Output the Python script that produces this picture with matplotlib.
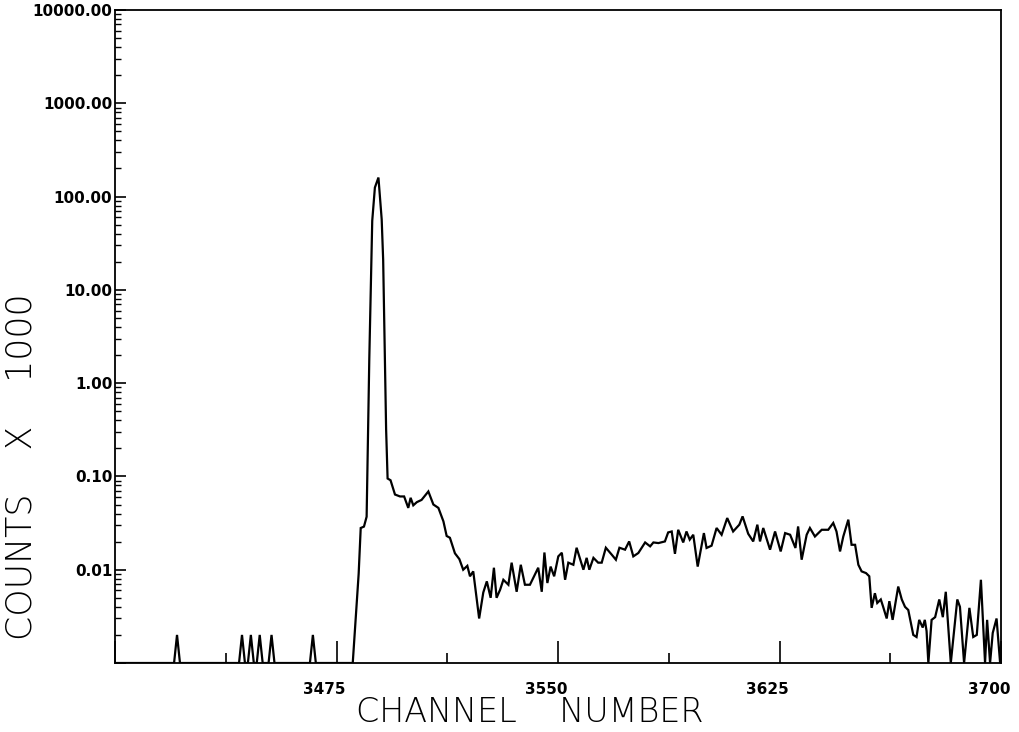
import numpy as np
import matplotlib
matplotlib.use("Agg")
import matplotlib.pyplot as plt
from matplotlib.transforms import ScaledTranslation
from matplotlib.ticker import FixedLocator, NullFormatter, LogLocator

# ---- data (channel number, counts x 1000) ----
channels = [
    3400, 3420, 3421, 3422, 3442, 3443, 3444, 3445, 3446, 3447, 3448, 3449, 3450,
    3452, 3453, 3454, 3466, 3467, 3468, 3480.5,
    3481.5, 3482.5, 3483.2, 3484.3, 3485.2, 3486.1, 3487.1, 3488.0, 3489.2, 3490.3,
    3490.8, 3491.4, 3491.8, 3492.3, 3493.3, 3494.8, 3496.5, 3497.9, 3499.3, 3500.1,
    3501.0, 3502.2, 3503.8, 3506.1, 3507.8, 3509.5, 3511.2, 3512.3, 3513.4, 3515.1,
    3516.6, 3517.9, 3519.3, 3520.2, 3521.3, 3523.3, 3524.7, 3525.9, 3527.2, 3528.3,
    3529.2, 3530.4, 3531.5, 3533.2, 3534.3, 3536.0, 3537.4, 3538.8, 3540.5, 3541.9,
    3543.3, 3544.5, 3545.4, 3546.4, 3547.5, 3548.7, 3550.1, 3551.3, 3552.4, 3553.5,
    3555.2, 3556.3, 3558.6, 3559.7, 3560.6, 3562.0, 3563.6, 3564.8, 3566.2, 3568.2,
    3569.6, 3570.8, 3572.7, 3574.1, 3575.5, 3577.2, 3579.5, 3581.2, 3582.3, 3584.0,
    3586.2, 3587.3, 3588.5, 3589.6, 3590.7, 3592.4, 3593.5, 3594.6, 3595.8, 3597.3,
    3599.4, 3600.3, 3602.0, 3603.7, 3605.4, 3607.3, 3609.3, 3611.4, 3612.5, 3614.4,
    3616.1, 3617.5, 3618.4, 3619.5, 3621.8, 3623.5, 3625.4, 3626.9, 3628.6, 3630.4,
    3631.3, 3632.5, 3634.2, 3635.3, 3637.0, 3639.3, 3641.5, 3643.2, 3644.3, 3645.5,
    3646.6, 3648.3, 3649.4, 3650.6, 3651.7, 3652.8, 3654.3, 3655.4, 3656.2, 3657.3,
    3658.1, 3659.3, 3660.1, 3661.3, 3662.2, 3663.3, 3665.2, 3666.4, 3667.5, 3668.6,
    3670.3, 3671.4, 3672.3, 3673.5, 3674.2, 3674.8, 3675.4, 3676.5, 3677.7, 3679.1,
    3680.3, 3681.3, 3683.0, 3685.2, 3686.1, 3687.5, 3689.3, 3690.6, 3691.8, 3693.2,
    3694.6, 3695.3, 3696.3, 3697.2, 3698.5, 3699.7,
]
counts = [
    0, 0, 0.002, 0, 0, 0.002, 0, 0, 0.002, 0, 0, 0.002, 0,
    0, 0.002, 0, 0, 0.002, 0, 0,
    0.003, 0.009, 0.028, 0.029, 0.037, 1.8, 55, 125, 160, 57,
    21, 1.8, 0.32, 0.095, 0.091, 0.064, 0.061, 0.061, 0.046, 0.059,
    0.049, 0.053, 0.056, 0.069, 0.050, 0.046, 0.033, 0.023, 0.022, 0.015,
    0.013, 0.010, 0.011, 0.0085, 0.0096, 0.0030, 0.0057, 0.0075, 0.0050, 0.0105,
    0.0050, 0.0061, 0.0078, 0.0069, 0.0119, 0.0058, 0.0113, 0.0069, 0.0069, 0.0085,
    0.0105, 0.0058, 0.0153, 0.0072, 0.0108, 0.0085, 0.0139, 0.0152, 0.0078, 0.0119,
    0.0113, 0.0172, 0.0100, 0.0134, 0.0100, 0.0134, 0.0119, 0.0119, 0.0172, 0.0145,
    0.0128, 0.0172, 0.0164, 0.0201, 0.0139, 0.0151, 0.0196, 0.0178, 0.0196, 0.0193,
    0.0201, 0.0251, 0.0257, 0.0148, 0.0268, 0.0196, 0.0257, 0.0210, 0.0237, 0.0108,
    0.0247, 0.0171, 0.0181, 0.0280, 0.0237, 0.0358, 0.0257, 0.0304, 0.0373, 0.0243,
    0.0201, 0.0304, 0.0201, 0.0280, 0.0164, 0.0257, 0.0157, 0.0247, 0.0237, 0.0171,
    0.0291, 0.0128, 0.0237, 0.0280, 0.0227, 0.0268, 0.0268, 0.0317, 0.0257, 0.0157,
    0.0227, 0.0344, 0.0185, 0.0185, 0.0113, 0.0096, 0.0092, 0.0085, 0.0039, 0.0056,
    0.0044, 0.0048, 0.0040, 0.0030, 0.0046, 0.0029, 0.0066, 0.0048, 0.0040, 0.0037,
    0.0020, 0.0019, 0.0029, 0.0024, 0.0029, 0.0022, 0, 0.0029, 0.0031, 0.0048,
    0.0031, 0.0058, 0, 0.0048, 0.0040, 0, 0.0039, 0.0019, 0.0020, 0.0078,
    0, 0.0029, 0, 0.0021, 0.0030, 0,
]

x_major = [3400, 3475, 3550, 3625, 3700]
x_major_labels = ["", "3475", "3550", "3625", "3700"]
x_minor = [3437.5, 3512.5, 3587.5, 3662.5]
y_major = [0.001, 0.01, 0.1, 1, 10, 100, 1000, 10000]
y_major_labels = ["", "0.01", "0.10", "1.00", "10.00", "100.00", "1000.00", "10000.00"]

# ---- figure ----
W, H = 1019, 732
fig = plt.figure(figsize=(W / 100, H / 100), dpi=100)
ax = fig.add_axes([115 / W, 1 - 663 / H, (1001 - 115) / W, (663 - 10) / H])

ch = np.array(channels, dtype=float)
ct = np.maximum(np.array(counts, dtype=float), 1e-3)
ax.plot(ch, ct, color="black", lw=1.6, solid_joinstyle="miter")

ax.set_yscale("log")
ax.set_xlim(3400, 3700)
ax.set_ylim(1e-3, 1e4)

for s in ax.spines.values():
    s.set_linewidth(1.3)
    s.set_color("black")

ax.xaxis.set_major_locator(FixedLocator(x_major))
ax.set_xticklabels(x_major_labels)
ax.xaxis.set_minor_locator(FixedLocator(x_minor))
ax.xaxis.set_minor_formatter(NullFormatter())
ax.tick_params(axis="x", which="major", direction="in", length=16, width=1.2,
               pad=14, labelsize=11)
ax.tick_params(axis="x", which="minor", direction="in", length=7, width=1.2)

ax.yaxis.set_major_locator(FixedLocator(y_major))
ax.set_yticklabels(y_major_labels)
ax.yaxis.set_minor_locator(LogLocator(base=10, subs=np.arange(2, 10)))
ax.yaxis.set_minor_formatter(NullFormatter())
ax.tick_params(axis="y", which="major", direction="in", length=8, width=1.2,
               pad=2, labelsize=11)
ax.tick_params(axis="y", which="minor", direction="in", length=4, width=1.0)

for lab in ax.get_xticklabels() + ax.get_yticklabels():
    lab.set_fontweight("bold")
    lab.set_family("DejaVu Sans")
off = ScaledTranslation(-12 / 100, 0, fig.dpi_scale_trans)
for lab in ax.get_xticklabels():
    lab.set_transform(lab.get_transform() + off)

fig.text(530 / W, 1 - 712 / H, "CHANNEL    NUMBER", ha="center", va="center",
         fontsize=24, fontweight="light", family="DejaVu Sans")
fig.text(22 / W, 1 - 467 / H, "COUNTS    X    1000", ha="center", va="center",
         rotation=90, fontsize=25, fontweight="light", family="DejaVu Sans")

fig.savefig("out.png", dpi=100, facecolor="white")
